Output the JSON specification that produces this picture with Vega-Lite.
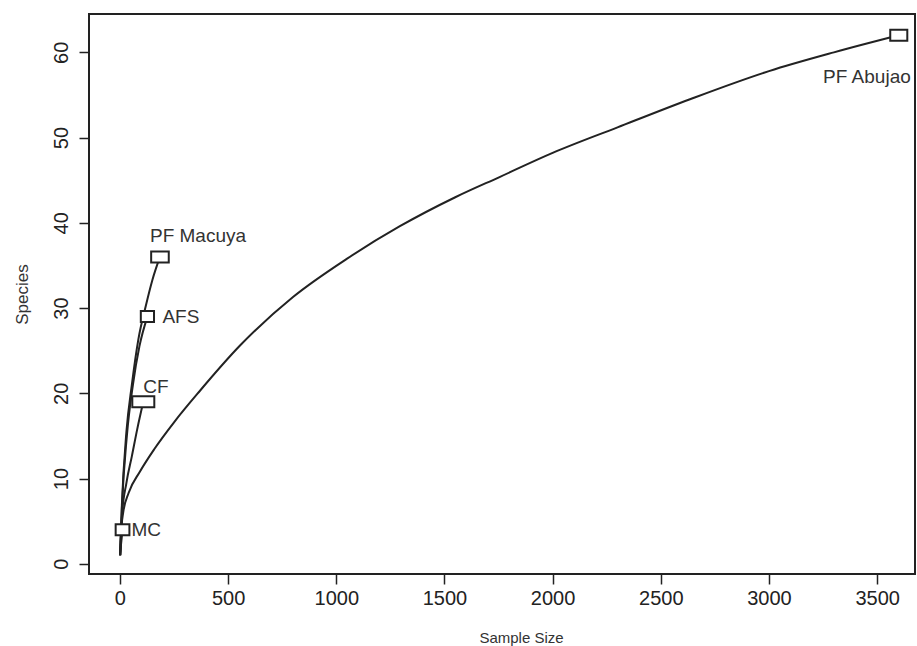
{
  "$schema": "https://vega.github.io/schema/vega-lite/v6.json",
  "width": 826,
  "height": 560,
  "autosize": {"type": "none"},
  "padding": {"left": 89, "top": 14, "right": 2, "bottom": 72},
  "background": "white",
  "config": {
    "view": {"stroke": "#222222", "strokeWidth": 2},
    "font": "Liberation Sans"
  },
  "datasets": {
    "curves": [
      {"site": "PF Abujao", "n": 1, "species": 1},
      {"site": "PF Abujao", "n": 5, "species": 3.5},
      {"site": "PF Abujao", "n": 15, "species": 6},
      {"site": "PF Abujao", "n": 40, "species": 8.3},
      {"site": "PF Abujao", "n": 92, "species": 10.8},
      {"site": "PF Abujao", "n": 160, "species": 13.5},
      {"site": "PF Abujao", "n": 250, "species": 16.6},
      {"site": "PF Abujao", "n": 370, "species": 20.3},
      {"site": "PF Abujao", "n": 555, "species": 25.6},
      {"site": "PF Abujao", "n": 800, "species": 31.3},
      {"site": "PF Abujao", "n": 1050, "species": 35.8},
      {"site": "PF Abujao", "n": 1294, "species": 39.6},
      {"site": "PF Abujao", "n": 1550, "species": 43},
      {"site": "PF Abujao", "n": 1757, "species": 45.4},
      {"site": "PF Abujao", "n": 2000, "species": 48.2},
      {"site": "PF Abujao", "n": 2300, "species": 51.2},
      {"site": "PF Abujao", "n": 2635, "species": 54.5},
      {"site": "PF Abujao", "n": 3000, "species": 57.8},
      {"site": "PF Abujao", "n": 3300, "species": 60},
      {"site": "PF Abujao", "n": 3600, "species": 62},
      {"site": "PF Macuya", "n": 1, "species": 1},
      {"site": "PF Macuya", "n": 9, "species": 6.9},
      {"site": "PF Macuya", "n": 30, "species": 15.5},
      {"site": "PF Macuya", "n": 55, "species": 21},
      {"site": "PF Macuya", "n": 85, "species": 26.3},
      {"site": "PF Macuya", "n": 120, "species": 30.3},
      {"site": "PF Macuya", "n": 150, "species": 33.3},
      {"site": "PF Macuya", "n": 185, "species": 36},
      {"site": "AFS", "n": 1, "species": 1},
      {"site": "AFS", "n": 9, "species": 6.5},
      {"site": "AFS", "n": 32, "species": 15},
      {"site": "AFS", "n": 60, "species": 21},
      {"site": "AFS", "n": 90, "species": 25.5},
      {"site": "AFS", "n": 127, "species": 29},
      {"site": "CF", "n": 1, "species": 1},
      {"site": "CF", "n": 9, "species": 5.5},
      {"site": "CF", "n": 30, "species": 9.5},
      {"site": "CF", "n": 55, "species": 12.6},
      {"site": "CF", "n": 80, "species": 15.8},
      {"site": "CF", "n": 108, "species": 19},
      {"site": "MC", "n": 1, "species": 1},
      {"site": "MC", "n": 4, "species": 2},
      {"site": "MC", "n": 8, "species": 3},
      {"site": "MC", "n": 12, "species": 4}
    ],
    "ends": [
      {"site": "PF Abujao", "n": 3600, "species": 62},
      {"site": "PF Macuya", "n": 185, "species": 36},
      {"site": "AFS", "n": 127, "species": 29},
      {"site": "CF", "n": 108, "species": 19},
      {"site": "MC", "n": 12, "species": 4}
    ]
  },
  "encoding": {
    "x": {
      "field": "n",
      "type": "quantitative",
      "scale": {"domain": [-143, 3675], "nice": false, "zero": false},
      "axis": {
        "title": "Sample Size",
        "values": [0, 500, 1000, 1500, 2000, 2500, 3000, 3500],
        "format": "d",
        "grid": false,
        "domain": false,
        "tickColor": "#222222",
        "tickWidth": 1.5,
        "tickSize": 10,
        "labelFontSize": 20,
        "labelColor": "#222222",
        "labelPadding": 4,
        "labelFlush": false,
        "titleFontSize": 15,
        "titleFontWeight": "normal",
        "titleColor": "#333333",
        "titleX": 432,
        "titleY": 68,
        "titleAlign": "center",
        "titleBaseline": "alphabetic"
      }
    },
    "y": {
      "field": "species",
      "type": "quantitative",
      "scale": {"domain": [-1.2, 64.5], "nice": false, "zero": false},
      "axis": {
        "title": "Species",
        "values": [0, 10, 20, 30, 40, 50, 60],
        "format": "d",
        "grid": false,
        "domain": false,
        "tickColor": "#222222",
        "tickWidth": 1.5,
        "tickSize": 10,
        "labelFontSize": 20,
        "labelColor": "#222222",
        "labelAngle": 270,
        "labelAlign": "center",
        "labelBaseline": "alphabetic",
        "labelPadding": 12,
        "labelFlush": false,
        "titleFontSize": 17,
        "titleFontWeight": "normal",
        "titleColor": "#333333",
        "titleAngle": 270,
        "titleX": -67,
        "titleY": 280,
        "titleAlign": "center",
        "titleBaseline": "middle"
      }
    }
  },
  "layer": [
    {
      "data": {"name": "curves"},
      "mark": {"type": "line", "color": "#222222", "strokeWidth": 2, "interpolate": "monotone"},
      "encoding": {"detail": {"field": "site", "type": "nominal"}}
    },
    {
      "data": {"name": "ends"},
      "mark": {"type": "point", "filled": true, "fill": "white", "stroke": "#222222", "strokeWidth": 2, "size": 121, "opacity": 1},
      "encoding": {
        "shape": {
          "field": "site",
          "type": "nominal",
          "scale": {
            "domain": ["PF Abujao", "PF Macuya", "AFS", "CF", "MC"],
            "range": [
              "M-1.55,-1L1.55,-1L1.55,1L-1.55,1Z",
              "M-1.6,-1L1.6,-1L1.6,1L-1.6,1Z",
              "M-1.2,-1L1.2,-1L1.2,1L-1.2,1Z",
              "M-2,-1L2,-1L2,1L-2,1Z",
              "M-1.25,-1L1.25,-1L1.25,1L-1.25,1Z"
            ]
          },
          "legend": null
        }
      }
    },
    {
      "data": {"name": "ends"},
      "transform": [{"filter": "datum.site === 'PF Macuya'"}],
      "mark": {"type": "text", "align": "left", "baseline": "alphabetic", "dx": -10, "dy": -15, "fontSize": 19, "fill": "#333333"},
      "encoding": {"text": {"field": "site"}}
    },
    {
      "data": {"name": "ends"},
      "transform": [{"filter": "datum.site === 'AFS'"}],
      "mark": {"type": "text", "align": "left", "baseline": "alphabetic", "dx": 15, "dy": 6, "fontSize": 19, "fill": "#333333"},
      "encoding": {"text": {"field": "site"}}
    },
    {
      "data": {"name": "ends"},
      "transform": [{"filter": "datum.site === 'CF'"}],
      "mark": {"type": "text", "align": "left", "baseline": "alphabetic", "dx": 0, "dy": -9, "fontSize": 19, "fill": "#333333"},
      "encoding": {"text": {"field": "site"}}
    },
    {
      "data": {"name": "ends"},
      "transform": [{"filter": "datum.site === 'MC'"}],
      "mark": {"type": "text", "align": "left", "baseline": "alphabetic", "dx": 9, "dy": 6, "fontSize": 19, "fill": "#333333"},
      "encoding": {"text": {"field": "site"}}
    },
    {
      "data": {"name": "ends"},
      "transform": [{"filter": "datum.site === 'PF Abujao'"}],
      "mark": {"type": "text", "align": "right", "baseline": "alphabetic", "dx": 12, "dy": 48, "fontSize": 19, "fill": "#333333"},
      "encoding": {"text": {"field": "site"}}
    }
  ]
}
